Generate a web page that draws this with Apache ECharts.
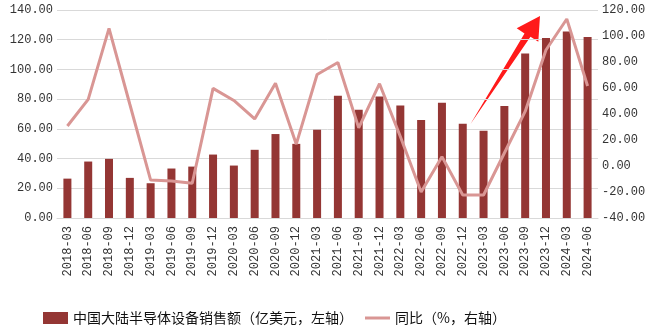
<!DOCTYPE html>
<html>
<head>
<meta charset="utf-8">
<script src="https://cdn.jsdelivr.net/npm/echarts@6/dist/echarts.min.js"></script>
<style>
html,body{margin:0;padding:0;background:#fff;}
#c{width:655px;height:329px;}
</style>
</head>
<body>
<div id="c"></div>
<script>
var categories = ['2018-03','2018-06','2018-09','2018-12','2019-03','2019-06','2019-09','2019-12',
  '2020-03','2020-06','2020-09','2020-12','2021-03','2021-06','2021-09','2021-12',
  '2022-03','2022-06','2022-09','2022-12','2023-03','2023-06','2023-09','2023-12','2024-03','2024-06'];
var salesValues = [26.5, 38.0, 39.8, 27.0, 23.4, 33.3, 34.6, 42.7, 35.3, 45.9, 56.5, 49.9, 59.4,
  82.3, 72.9, 81.8, 75.8, 65.9, 77.6, 63.4, 58.8, 75.4, 110.7, 121.2, 125.5, 121.9];
var yoyValues = [30.8, 51.3, 105.9, 47.5, -10.8, -11.5, -13.3, 59.7, 50.4, 36.2, 63.6, 16.8, 70.4,
  79.6, 29.3, 63.3, 22.7, -20.0, 7.2, -22.3, -22.3, 10.0, 42.0, 89.2, 113.1, 61.5];
var leftTicks = {min: 0, max: 140, interval: 20};
var rightTicks = {min: -40, max: 120, interval: 20};
var seriesNames = ['中国大陆半导体设备销售额（亿美元，左轴）', '同比（%，右轴）'];

var chart = echarts.init(document.getElementById('c'), null, {renderer: 'canvas'});
var monoFont = '"Liberation Mono", "DejaVu Sans Mono", monospace';
chart.setOption({
  animation: false,
  grid: {left: 57, right: 57, top: 10, bottom: 111, containLabel: false},
  legend: {
    left: 38, top: 306,
    itemWidth: 25, itemHeight: 12, itemGap: 12,
    textStyle: {fontFamily: '"Noto Sans CJK SC"', fontSize: 14, color: '#111'},
    data: [
      {name: seriesNames[0], icon: 'rect'},
      {name: seriesNames[1], icon: 'path://M0,0 L25,0 L25,3 L0,3 Z', itemStyle: {color: '#d99694'}}
    ]
  },
  xAxis: {
    type: 'category',
    data: categories,
    axisTick: {show: false},
    axisLine: {lineStyle: {color: '#d9d9d9', width: 1}},
    axisLabel: {rotate: 90, margin: 8, interval: 0, fontFamily: monoFont, fontSize: 12, color: '#333'}
  },
  yAxis: [
    {
      type: 'value', min: leftTicks.min, max: leftTicks.max, interval: leftTicks.interval,
      axisLine: {show: false}, axisTick: {show: false},
      splitLine: {lineStyle: {color: '#d9d9d9', width: 1}},
      axisLabel: {margin: 4, fontFamily: monoFont, fontSize: 12, color: '#333',
        formatter: function (v) { return v.toFixed(2); }}
    },
    {
      type: 'value', min: rightTicks.min, max: rightTicks.max, interval: rightTicks.interval,
      axisLine: {show: false}, axisTick: {show: false}, splitLine: {show: false},
      axisLabel: {margin: 4, fontFamily: monoFont, fontSize: 12, color: '#333',
        formatter: function (v) { return v.toFixed(2); }}
    }
  ],
  series: [
    {
      name: seriesNames[0], type: 'bar', data: salesValues, yAxisIndex: 0,
      barWidth: 8, itemStyle: {color: '#943634'}
    },
    {
      name: seriesNames[1], type: 'line', data: yoyValues, yAxisIndex: 1,
      symbol: 'none', lineStyle: {color: '#d99694', width: 3}, itemStyle: {color: '#d99694'}
    }
  ],
  graphic: [
    {
      type: 'polygon',
      shape: {points: [[470.5, 124], [524.5, 33.6], [516.7, 28.3], [540, 16], [538.3, 41.7], [530.5, 36.8]]},
      style: {fill: '#ff1a1a'}
    }
  ]
});
</script>
</body>
</html>
